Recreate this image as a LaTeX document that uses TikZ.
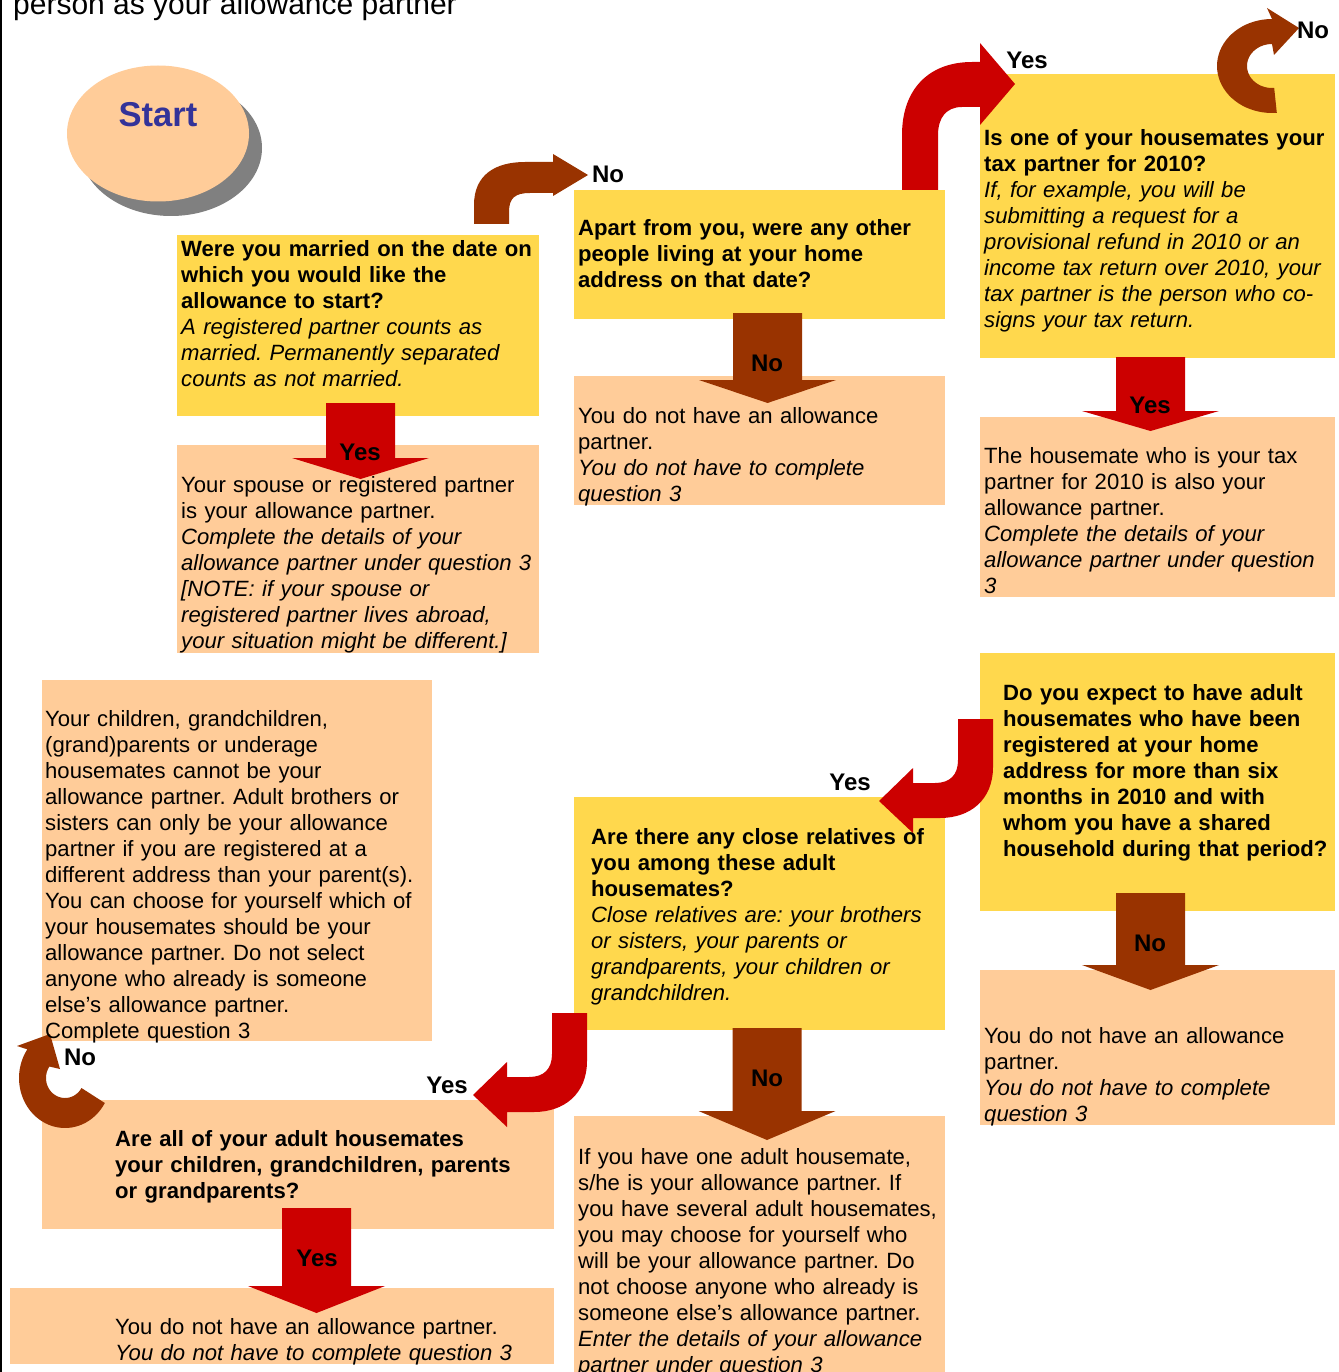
\documentclass[tikz,border=0pt]{standalone}
\usepackage{fontspec}
\setmainfont{Liberation Sans}
\usetikzlibrary{shapes.geometric}
\definecolor{qyellow}{HTML}{FFD84D}
\definecolor{apeach}{HTML}{FFCC99}
\definecolor{ared}{HTML}{CC0000}
\definecolor{abrown}{HTML}{993300}
\definecolor{startblue}{HTML}{333399}
\definecolor{shadowgray}{HTML}{808080}
\newcommand\blockdown[5]{\fill[#1] ({#2-34.5},#3) -- ({#2+34.5},#3) -- ({#2+34.5},#4) -- ({#2+68.5},#4) -- (#2,#5) -- ({#2-68.5},#4) -- ({#2-34.5},#4) -- cycle;}
\newcommand\blockhook[2]{\fill[ared] ({#1-35},#2) -- (#1,#2) -- (#1,{#2+48}) .. controls (#1,{#2+81}) and ({#1-23},{#2+99}) .. ({#1-53},{#2+99}) -- ({#1-80},{#2+99}) -- ({#1-80},{#2+114}) -- ({#1-114},{#2+82}) -- ({#1-80},{#2+49}) -- ({#1-80},{#2+64}) -- ({#1-58},{#2+64}) .. controls ({#1-43},{#2+64}) and ({#1-35},{#2+56}) .. ({#1-35},{#2+41}) -- cycle;}
\frenchspacing
\begin{document}
\begin{tikzpicture}[x=1pt,y=-1pt,
  qbox/.style 2 args={fill=qyellow,draw=none,inner sep=0pt,anchor=north west,minimum width=#1,minimum height=#2},
  abox/.style 2 args={fill=apeach,draw=none,inner sep=0pt,anchor=north west,minimum width=#1,minimum height=#2},
  txt/.style={anchor=base west,inner sep=0pt,text width=450pt,align=left,font=\fontsize{22.1}{26}\selectfont\frenchspacing},
  lbl/.style={inner sep=0pt,font=\bfseries\fontsize{24}{28}\selectfont}]
\useasboundingbox (0,0) rectangle (1338,1372);
\clip (0,0) rectangle (1338,1372);
\fill[white] (0,0) rectangle (1338,1372);
\draw[line width=2] (1,0) -- (1,1372);
\node[anchor=base west,inner sep=0pt,font=\fontsize{30}{36}\selectfont] (title) at (13,15) {person as your allowance partner};
% start
\fill[shadowgray] (171,148) ellipse [x radius=91, y radius=68];
\node[ellipse,fill=apeach,draw=none,inner sep=0pt,minimum width=182,minimum height=136] (start) at (158,133.5) {};
\node[inner sep=0pt,font=\bfseries\fontsize{34.5}{40}\selectfont,text=startblue] (starttxt) at (158,115) {Start};
% boxes
\node[qbox={362}{181}] (q1) at (177,235) {};
\node[abox={362}{208}] (a1) at (177,445) {};
\node[qbox={371}{129}] (q2) at (574,190) {};
\node[abox={371}{129}] (a2) at (574,376) {};
\node[qbox={355}{284}] (q3) at (980,74) {};
\node[abox={355}{180}] (a3) at (980,417) {};
\node[qbox={355}{258}] (q4) at (980,653) {};
\node[abox={355}{155}] (a4) at (980,970) {};
\node[qbox={371}{233}] (q5) at (574,797) {};
\node[abox={371}{260}] (a5) at (574,1116) {};
\node[abox={512}{129}] (q6) at (42,1100) {};
\node[abox={544}{76}] (a6) at (10,1288) {};
\node[abox={390}{361}] (a7) at (42,680) {};
% straight block arrows
\blockdown{ared}{360.5}{403}{458}{479}
\blockdown{abrown}{767.5}{313}{380}{403}
\blockdown{ared}{1150.5}{357}{411}{431}
\blockdown{abrown}{1150.5}{893}{965}{990}
\blockdown{abrown}{767}{1028}{1111}{1140}
\blockdown{ared}{316.5}{1208}{1286}{1313}
% bent arrows
\fill[abrown] (474,224) -- (474,205) .. controls (474,175) and (495,162) .. (525,162) -- (553,162) -- (553,154) -- (588,175) -- (553,196) -- (553,193) -- (530,193) .. controls (515,193) and (509,198) .. (509,212) -- (509,224) -- cycle;
\fill[ared] (902,190) -- (902,135) .. controls (902,88) and (930,62) .. (972,62) -- (980,62) -- (980,43) -- (1015,84) -- (980,125) -- (980,107) -- (962,107) .. controls (946,107) and (938,118) .. (938,135) -- (938,190) -- cycle;
\blockhook{993}{719}
\blockhook{587}{1013}
% curls
\fill[abrown] plot[domain=85:270,samples=40] ({1272+55*cos(\x)},{66+47*sin(\x)}) -- (1267,8) -- (1299,28) -- (1274,55) -- plot[domain=270:85,samples=40] ({1272+25*cos(\x)},{66+22*sin(\x)}) -- cycle;
\fill[abrown] plot[domain=30:215,samples=40] ({65+46*cos(\x)},{1078+50*sin(\x)}) -- (17,1046) -- (50,1034) -- (60,1069) -- plot[domain=215:30,samples=40] ({65+19*cos(\x)},{1078+20*sin(\x)}) -- cycle;
% labels
\node[lbl] (l1) at (608,174) {No};
\node[lbl] (l2) at (1027,60) {Yes};
\node[lbl] (l3) at (1313,30) {No};
\node[lbl] (l4) at (360,452) {Yes};
\node[lbl] (l5) at (767,363) {No};
\node[lbl] (l6) at (1150,405) {Yes};
\node[lbl] (l7) at (1150,943) {No};
\node[lbl] (l8) at (767,1078) {No};
\node[lbl] (l9) at (317,1258) {Yes};
\node[lbl] (l10) at (850,782) {Yes};
\node[lbl] (l11) at (447,1085) {Yes};
\node[lbl] (l12) at (80,1057) {No};
% texts
\node[txt] (tq1) at (181,256) {\bfseries Were you married on the date on\\which you would like the\\allowance to start?\\\mdseries\itshape A registered partner counts as\\married. Permanently separated\\counts as not married.};
\node[txt] (ta1) at (181,492) {Your spouse or registered partner\\is your allowance partner.\\\itshape Complete the details of your\\allowance partner under question 3\\{}[NOTE: if your spouse or\\registered partner lives abroad,\\your situation might be different.]};
\node[txt] (tq2) at (578,236) {\bfseries Apart from you, were any other\\people living at your home\\address on that date?};
\node[txt] (ta2) at (578,423) {You do not have an allowance\\partner.\\\itshape You do not have to complete\\question 3};
\node[txt] (tq3) at (984,146) {\bfseries Is one of your housemates your\\tax partner for 2010?\\\mdseries\itshape If, for example, you will be\\submitting a request for a\\provisional refund in 2010 or an\\income tax return over 2010, your\\tax partner is the person who co-\\signs your tax return.};
\node[txt] (ta3) at (984,463) {The housemate who is your tax\\partner for 2010 is also your\\allowance partner.\\\itshape Complete the details of your\\allowance partner under question\\3};
\node[txt] (tq4) at (1003,700) {\bfseries Do you expect to have adult\\housemates who have been\\registered at your home\\address for more than six\\months in 2010 and with\\whom you have a shared\\household during that period?};
\node[txt] (ta4) at (984,1043) {You do not have an allowance\\partner.\\\itshape You do not have to complete\\question 3};
\node[txt] (tq5) at (591,844) {\bfseries Are there any close relatives of\\you among these adult\\housemates?\\\mdseries\itshape Close relatives are: your brothers\\or sisters, your parents or\\grandparents, your children or\\grandchildren.};
\node[txt] (ta5) at (578,1164) {If you have one adult housemate,\\s/he is your allowance partner. If\\you have several adult housemates,\\you may choose for yourself who\\will be your allowance partner. Do\\not choose anyone who already is\\someone else’s allowance partner.\\\itshape Enter the details of your allowance\\partner under question 3};
\node[txt] (tq6) at (115,1146) {\bfseries Are all of your adult housemates\\your children, grandchildren, parents\\or grandparents?};
\node[txt] (ta6) at (115,1334) {You do not have an allowance partner.\\\itshape You do not have to complete question 3};
\node[txt] (ta7) at (45,726) {Your children, grandchildren,\\(grand)parents or underage\\housemates cannot be your\\allowance partner. Adult brothers or\\sisters can only be your allowance\\partner if you are registered at a\\different address than your parent(s).\\You can choose for yourself which of\\your housemates should be your\\allowance partner. Do not select\\anyone who already is someone\\else’s allowance partner.\\Complete question 3};
\end{tikzpicture}
\end{document}
